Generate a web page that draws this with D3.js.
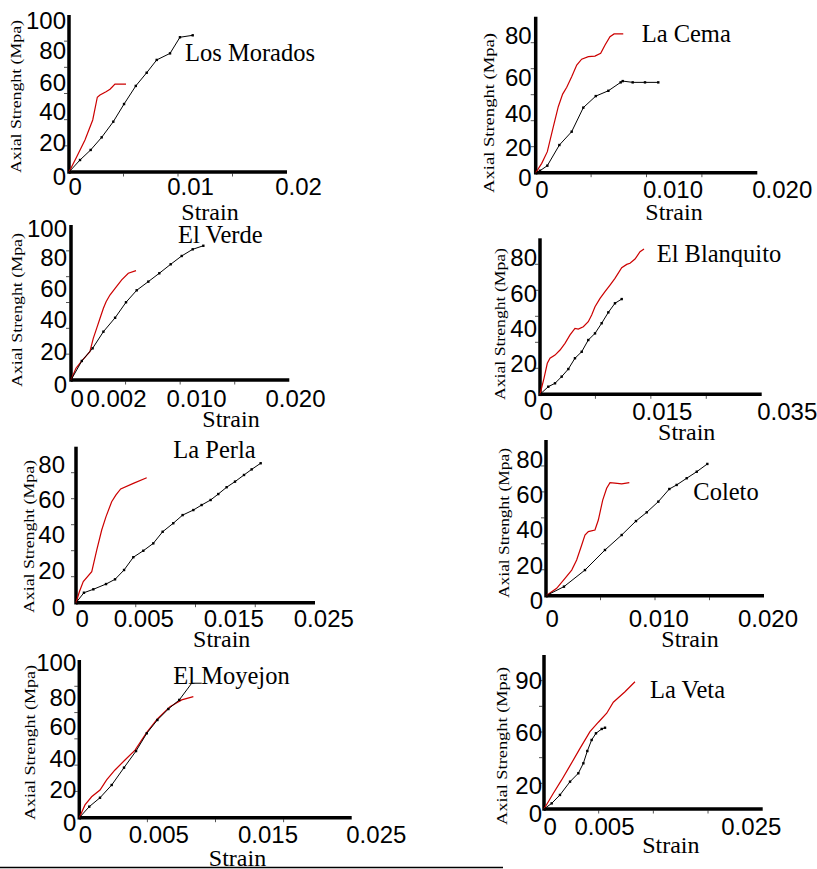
<!DOCTYPE html>
<html>
<head>
<meta charset="utf-8">
<script src="https://cdnjs.cloudflare.com/ajax/libs/d3/7.8.5/d3.min.js"></script>
<style>
  body { margin: 0; background: #fff; }
</style>
</head>
<body>
<div id="chartDiv"></div>
<script>
////////////////////////////////////////////////////////////
//////////////////////// Data //////////////////////////////
////////////////////////////////////////////////////////////

var names = ["Los Morados", "La Cema", "El Verde", "El Blanquito", "La Perla", "Coleto", "El Moyejon", "La Veta"];

var xTickLabels = [
  ["0", "0.01", "0.02"],
  ["0", "0.010", "0.020"],
  ["0", "0.002", "0.010", "0.020"],
  ["0", "0.015", "0.035"],
  ["0", "0.005", "0.015", "0.025"],
  ["0", "0.010", "0.020"],
  ["0", "0.005", "0.015", "0.025"],
  ["0", "0.005", "0.025"]
];

var yTickLabels = [
  ["0", "20", "40", "60", "80", "100"],
  ["0", "20", "40", "60", "80"],
  ["0", "20", "40", "60", "80", "100"],
  ["0", "20", "40", "60", "80"],
  ["0", "20", "40", "60", "80"],
  ["0", "20", "40", "60", "80"],
  ["0", "20", "40", "60", "80", "100"],
  ["0", "20", "60", "90"]
];

// [strain, axial strength MPa]
var losMoradosBlack = [[0,0],[0.00091,8.0],[0.00179,14.7],[0.0027,23.0],[0.00366,33.1],[0.00455,44.8],[0.00552,57.3],[0.00642,65.8],[0.00725,73.8],[0.00835,77.9],[0.00917,88.5],[0.01025,89.8]];
var losMoradosRed = [[0,0],[0.00064,10.2],[0.00132,21.3],[0.00196,34.2],[0.00234,49.5],[0.00256,51.0],[0.00306,53.3],[0.00339,55.0],[0.0038,58.6],[0.00471,58.6]];

var laCemaBlack = [[0,0],[0.00031,1.5],[0.00085,5.4],[0.00173,21.0],[0.00263,29.0],[0.00348,43.1],[0.00439,49.4],[0.00531,52.3],[0.00621,56.9],[0.00636,57.6],[0.00709,56.9],[0.00799,56.9],[0.00896,56.9]];
var laCemaRed = [[0,0],[0.00044,7.2],[0.00085,16.2],[0.00129,32.0],[0.00165,43.6],[0.00197,50.5],[0.00227,54.2],[0.00263,60.0],[0.003,65.6],[0.00336,68.4],[0.00385,69.6],[0.00433,69.9],[0.00475,71.2],[0.00507,75.2],[0.00543,79.2],[0.00573,80.5],[0.0064,80.5]];

var elVerdeBlack = [[0,0],[0.00048,13.0],[0.00096,21.5],[0.00144,32.0],[0.00196,40.8],[0.003,50.9],[0.00407,58.7],[0.00523,64.3],[0.00633,69.7],[0.00747,75.5],[0.00857,80.9],[0.00967,85.4],[0.01074,87.8]];
var elVerdeRed = [[0,0],[0.00022,8.0],[0.00048,13.0],[0.00084,19.3],[0.00099,27.8],[0.00114,34.1],[0.00129,40.5],[0.00144,47.0],[0.00156,51.3],[0.00173,55.6],[0.00196,60.0],[0.00257,65.4],[0.00323,69.7],[0.004,71.4]];

var elBlanquitoBlack = [[0,0],[0.00102,4.9],[0.00185,7.1],[0.00267,11.4],[0.00349,16.3],[0.00431,22.9],[0.00514,26.6],[0.00595,33.3],[0.00678,37.1],[0.0076,42.9],[0.00842,49.1],[0.00924,54.3],[0.01007,56.7]];
var elBlanquitoRed = [[0,0],[0.00049,10.3],[0.0009,20.0],[0.00123,22.9],[0.00185,24.7],[0.00247,27.6],[0.00308,31.4],[0.0037,36.2],[0.00431,40.0],[0.00472,39.6],[0.00534,40.9],[0.00595,43.8],[0.00637,47.6],[0.00678,52.3],[0.0074,57.1],[0.00801,60.9],[0.00863,64.5],[0.00924,68.2],[0.01007,74.0],[0.01069,75.8],[0.01109,76.4],[0.01171,78.7],[0.01233,82.7],[0.01282,84.2]];

var laPerlaBlack = [[0,0],[0.00059,6.1],[0.00129,8.2],[0.00223,11.4],[0.0029,14.3],[0.00357,20.0],[0.00426,27.1],[0.005,30.7],[0.00611,34.8],[0.00715,41.3],[0.00833,46.2],[0.00937,50.9],[0.01056,53.8],[0.01148,56.7],[0.01248,59.6],[0.01333,63.0],[0.01426,66.9],[0.01519,70.1],[0.01619,73.9],[0.01704,77.1],[0.01804,80.6]];
var laPerlaRed = [[0,0],[0.00025,6.7],[0.00054,12.9],[0.00117,19.0],[0.00154,31.1],[0.00191,42.3],[0.00223,50.0],[0.00265,58.6],[0.00297,62.5],[0.00332,65.9],[0.00426,69.1],[0.00538,72.3]];

var coletoBlack = [[0,0],[0.0016,5.9],[0.00347,16.7],[0.00525,28.4],[0.00674,36.8],[0.00801,44.7],[0.00897,49.7],[0.01,55.8],[0.01101,63.0],[0.01168,65.3],[0.0126,69.1],[0.01352,72.8],[0.01449,77.2]];
var coletoRed = [[0,0],[0.00095,4.8],[0.00169,11.3],[0.00229,16.7],[0.00273,22.8],[0.00318,31.2],[0.00347,36.8],[0.00377,38.7],[0.00436,39.6],[0.00466,45.3],[0.00505,56.7],[0.0054,63.4],[0.0057,66.6],[0.00614,66.3],[0.00674,65.9],[0.00742,66.6]];

var elMoyejonBlack = [[0,0],[0.00063,7.7],[0.00131,13.9],[0.00205,22.6],[0.00283,33.9],[0.00359,44.5],[0.00427,55.5],[0.00494,64.1],[0.00592,71.6],[0.00692,77.8],[0.00806,87.7],[0.00898,87.7]];
var elMoyejonRed = [[0,0],[0.00036,8.9],[0.00078,14.6],[0.00131,19.3],[0.00173,25.9],[0.00226,32.4],[0.00289,38.9],[0.00353,45.1],[0.00427,56.1],[0.00494,64.8],[0.00607,73.2],[0.00714,77.8],[0.00821,80.0]];

var laVetaBlack = [[0,0],[0.00064,4.7],[0.00133,11.7],[0.00217,22.5],[0.00286,28.8],[0.00328,36.3],[0.00361,45.5],[0.00397,53.8],[0.00433,58.8],[0.00481,61.6],[0.00514,62.3]];
var laVetaRed = [[0,0],[0.00078,13.1],[0.00147,23.8],[0.00217,34.5],[0.003,47.5],[0.00383,60.0],[0.00453,65.5],[0.00537,70.7],[0.00627,77.1],[0.00695,79.7],[0.00786,83.2],[0.00854,86.1],[0.00922,89.0]];

var blackSeries = [losMoradosBlack, laCemaBlack, elVerdeBlack, elBlanquitoBlack, laPerlaBlack, coletoBlack, elMoyejonBlack, laVetaBlack];
var redSeries = [losMoradosRed, laCemaRed, elVerdeRed, elBlanquitoRed, laPerlaRed, coletoRed, elMoyejonRed, laVetaRed];

////////////////////////////////////////////////////////////
/////////////////////// Layout /////////////////////////////
////////////////////////////////////////////////////////////

// pixel positions of the tick labels (the pasted figure has uneven axes)
var layout = [
  {xPx:[69,190,298], yPx:[172,142,111,82,50,20], xEnd:287, yTop:15, xDy:23, gap:3, title:[185,61], strain:[210,219.5], yTitle:[17,96.5,153]},
  {xPx:[535.7,672.5,781.7], yPx:[172.7,146.7,113.3,76.7,35], xEnd:757.3, yTop:16.7, xDy:25, gap:4, title:[641.7,42.3], strain:[674,220], yTitle:[490,113,160]},
  {xPx:[71,116,196,295], yPx:[380,350.7,319,288.3,257.3,227.7], xEnd:289.3, yTop:225, xDy:26.7, gap:4, title:[178,243.3], strain:[231,426.7], yTitle:[18.3,310,154]},
  {xPx:[540,661.7,786.7], yPx:[394.3,363.3,328.3,293.3,256.7], xEnd:761.7, yTop:238.3, xDy:25.7, gap:3, title:[656.7,262.3], strain:[686.7,440], yTitle:[501.7,324,152]},
  {xPx:[76,143.3,233.3,323.3], yPx:[602.7,570,534,499.3,464.3], xEnd:315, yTop:446.7, xDy:24, gap:11, title:[173.3,458.3], strain:[221.7,646.7], yTitle:[30,536.5,153]},
  {xPx:[546,658.3,767.5], yPx:[595.7,565,529.3,494.3,459], xEnd:764, yTop:440, xDy:31, gap:3, title:[693.3,500], strain:[690,646.7], yTitle:[505,523,150]},
  {xPx:[79.3,158.3,267.5,375.8], yPx:[817.7,789,758.3,726,696.7,661.7], xEnd:351.7, yTop:660, xDy:25.6, gap:3, title:[173.3,684.3], strain:[237.5,866], yTitle:[31.7,742.5,155]},
  {xPx:[544,604,750.8], yPx:[809,785,731.7,680], xEnd:762.7, yTop:655, xDy:26, gap:2, title:[650,697.7], strain:[670.8,853.3], yTitle:[503.3,746,158]}
];

var sans = "'Liberation Sans', Arial, sans-serif";
var serif = "'Liberation Serif', 'Times New Roman', serif";
var redColor = "#cc0000";

var svg = d3.select("#chartDiv").append("svg")
  .attr("width", 817)
  .attr("height", 869)
  .style("display", "block");

////////////////////////////////////////////////////////////
/////////////////////// Panels /////////////////////////////
////////////////////////////////////////////////////////////

names.forEach(function(name, i) {
  var L = layout[i];
  var xVals = xTickLabels[i].map(Number);
  var yVals = yTickLabels[i].map(Number);

  var x = d3.scaleLinear().domain(xVals).range(L.xPx);
  var y = d3.scaleLinear().domain(yVals).range(L.yPx);
  var ox = x(0), oy = y(0);

  var g = svg.append("g").attr("class", "panel");

  // small ticks
  d3.range(1, 4).forEach(function(k) {
    var px = ox + k * (L.xEnd - ox) / 4;
    g.append("line").attr("x1", px).attr("x2", px).attr("y1", oy + 1.5).attr("y2", oy + 4.5)
      .attr("stroke", "#555").attr("stroke-width", 1);
  });
  d3.range(1, 6).forEach(function(k) {
    var py = oy - k * (oy - L.yTop) / 6;
    g.append("line").attr("x1", ox - 5).attr("x2", ox - 1.5).attr("y1", py).attr("y2", py)
      .attr("stroke", "#555").attr("stroke-width", 1);
  });

  // axes
  var xAxis = g.append("g")
    .attr("transform", "translate(0," + oy + ")")
    .call(d3.axisBottom(x).tickValues(xVals).tickSize(0)
      .tickFormat(function(d, j) { return xTickLabels[i][j]; }));
  xAxis.select(".domain").remove();
  xAxis.selectAll("text")
    .attr("y", L.xDy).attr("dy", null)
    .style("font-family", sans).style("font-size", "24px").style("fill", "#000")
    .attr("text-anchor", function(d) { return d === 0 ? "start" : "middle"; })
    .attr("x", function(d) { return d === 0 ? -1 : 0; });

  var yAxis = g.append("g")
    .attr("transform", "translate(" + ox + ",0)")
    .call(d3.axisLeft(y).tickValues(yVals).tickSize(0).tickPadding(L.gap)
      .tickFormat(function(d, j) { return yTickLabels[i][j]; }));
  yAxis.select(".domain").remove();
  yAxis.selectAll("text")
    .attr("dy", function(d) { return d === 0 ? "0.52em" : "0.35em"; })
    .style("font-family", sans).style("font-size", "24px").style("fill", "#000");

  g.append("line").attr("x1", ox).attr("x2", L.xEnd).attr("y1", oy).attr("y2", oy)
    .attr("stroke", "#000").attr("stroke-width", 3.5);
  g.append("line").attr("x1", ox).attr("x2", ox).attr("y1", oy + 1.75).attr("y2", L.yTop)
    .attr("stroke", "#000").attr("stroke-width", 3.5);

  // curves
  var line = d3.line()
    .x(function(d) { return x(d[0]); })
    .y(function(d) { return y(d[1]); });

  g.append("path").datum(redSeries[i])
    .attr("d", line).attr("fill", "none")
    .attr("stroke", redColor).attr("stroke-width", 1.2);

  g.append("path").datum(blackSeries[i])
    .attr("d", line).attr("fill", "none")
    .attr("stroke", "#000").attr("stroke-width", 1);

  g.selectAll("rect.marker")
    .data(blackSeries[i].slice(1, name === "El Moyejon" ? -2 : undefined))
    .enter().append("rect")
    .attr("class", "marker")
    .attr("x", function(d) { return x(d[0]) - 1.2; })
    .attr("y", function(d) { return y(d[1]) - 1.2; })
    .attr("width", 2.4).attr("height", 2.4)
    .attr("fill", "#000");

  // texts
  g.append("text")
    .attr("x", L.title[0]).attr("y", L.title[1])
    .style("font-family", serif).style("font-size", "24.5px")
    .text(name);

  g.append("text")
    .attr("x", L.strain[0]).attr("y", L.strain[1])
    .attr("text-anchor", "middle")
    .style("font-family", serif).style("font-size", "24px")
    .text("Strain");

  g.append("text")
    .attr("transform", "translate(" + L.yTitle[0] + "," + L.yTitle[1] + ") rotate(-90)")
    .attr("text-anchor", "middle")
    .attr("dy", "0.24em")
    .attr("textLength", L.yTitle[2])
    .attr("lengthAdjust", "spacingAndGlyphs")
    .style("font-family", serif).style("font-size", "15px")
    .text("Axial Strenght (Mpa)");
});

// rule under the figure
svg.append("line")
  .attr("x1", 0).attr("x2", 503).attr("y1", 867.5).attr("y2", 867.5)
  .attr("stroke", "#000").attr("stroke-width", 1.5);
</script>
</body>
</html>
